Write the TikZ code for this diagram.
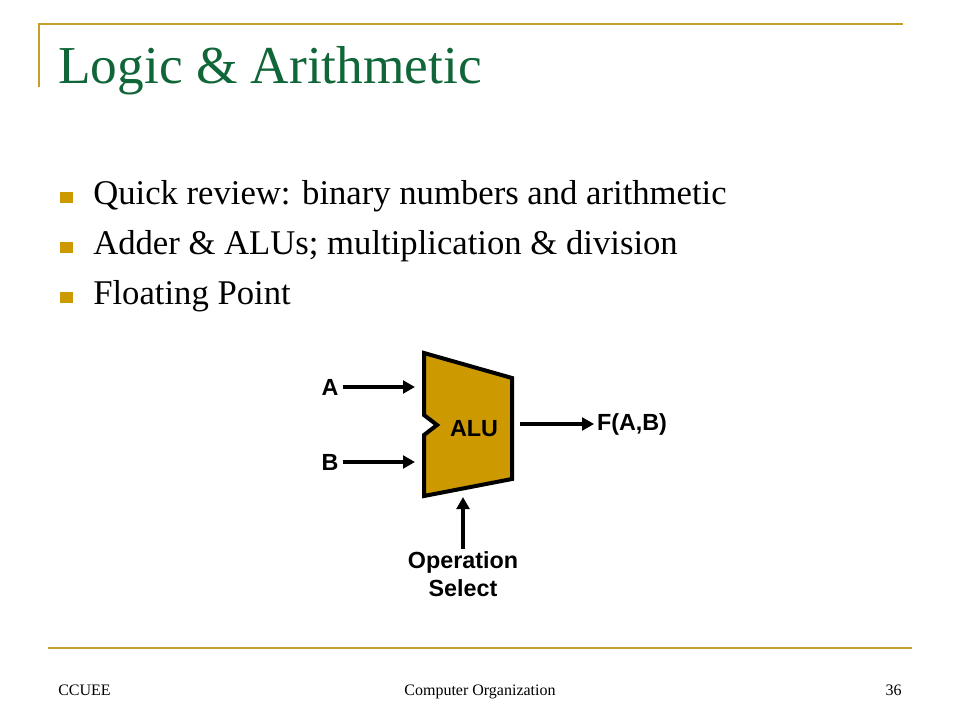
\documentclass[tikz,border=0pt]{standalone}
\usepackage{fontspec}
\setmainfont{Liberation Serif}
\setsansfont{Liberation Sans}
\usetikzlibrary{arrows.meta}

\definecolor{rulegold}{RGB}{196,160,40}
\definecolor{titlegreen}{RGB}{16,102,56}
\definecolor{alugold}{RGB}{204,153,0}

\tikzset{
    sig/.style={line width=2.6pt, -{Triangle[length=9pt,width=9.5pt]}},
    lbl/.style={font=\sffamily\bfseries\fontsize{17.5}{21}\selectfont, inner sep=2pt},
    bul/.style={fill=alugold, minimum width=9.5pt, minimum height=8.5pt, inner sep=0pt},
    item/.style={anchor=base west, inner sep=0pt, font=\fontsize{26}{30}\selectfont},
    foot/.style={anchor=base, inner sep=0pt, font=\fontsize{12}{14}\selectfont}
}

\begin{document}
\begin{tikzpicture}[x=0.75pt, y=-0.75pt]
    \useasboundingbox (0,0) rectangle (960,720);

    % Draw the frame lines
    \draw[rulegold, line width=1.6pt] (39,87) -- (39,24) -- (903,24);
    \draw[rulegold, line width=2pt] (48,648) -- (912,648);

    % Title
    \node[anchor=base west, inner sep=0pt, text=titlegreen, font=\fontsize{40}{46}\selectfont]
        (title) at (58,84) {Logic \& Arithmetic};

    % Bullet list
    \node[bul] (b1) at (66.5,197.5) {};
    \node[bul] (b2) at (66.5,247.5) {};
    \node[bul] (b3) at (66.5,297.5) {};
    \node[item] (t1) at (93,205) {Quick review: binary numbers and arithmetic};
    \node[item] (t2) at (93,255) {Adder \& ALUs; multiplication \& division};
    \node[item] (t3) at (93,305) {Floating Point};

    % Draw the ALU body
    \draw[fill=alugold, line width=3pt, line join=miter]
        (424,353) -- (512,378) -- (512,479) -- (424,496) -- (424,435)
        -- (437,425) -- (424,415) -- cycle;
    \node[lbl] (alu) at (474,429) {ALU};

    % Inputs and output
    \node[lbl, inner sep=3pt] (a) at (330,387) {A};
    \node[lbl, inner sep=3pt] (b) at (330,462) {B};
    \node[lbl] (f) at (632,424) {F(A,B)};
    \node[lbl, align=center] (ops) at (463,574) {Operation\\Select};

    \coordinate (ain) at (415,387);
    \coordinate (bin) at (415,462);
    \coordinate (fout) at (520,424);
    \coordinate (opin) at (463,497);

    \draw[sig] (a) -- (ain);
    \draw[sig] (b) -- (bin);
    \draw[sig] (fout) -- (f);
    \draw[sig] (ops) -- (opin);

    % Footer
    \node[foot, anchor=base west] (fl) at (58,695) {CCUEE};
    \node[foot] (fc) at (480,695) {Computer Organization};
    \node[foot, anchor=base east] (fr) at (902,695) {36};
\end{tikzpicture}
\end{document}
